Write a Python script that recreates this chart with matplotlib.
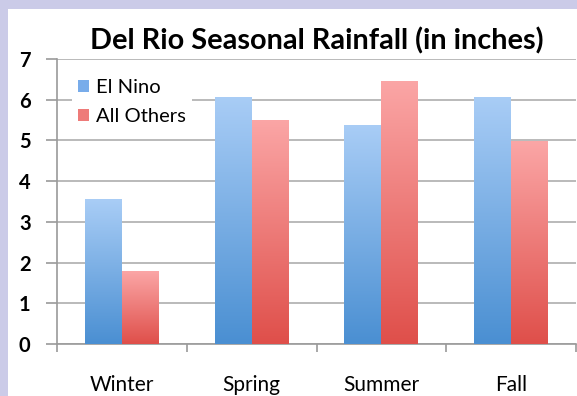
import numpy as np
import matplotlib
matplotlib.use("Agg")
import matplotlib.pyplot as plt
from matplotlib.colors import LinearSegmentedColormap
from matplotlib.patches import Patch

# data
seasons = ["Winter", "Spring", "Summer", "Fall"]
el_nino = [3.56, 6.07, 5.38, 6.07]
all_others = [1.79, 5.51, 6.46, 4.98]

plt.rcParams['font.family'] = ['Lato', 'DejaVu Sans']

fig = plt.figure(figsize=(5.77, 3.96), dpi=100)
fig.patch.set_facecolor('#cbcbe8')
# white chart panel
fig.patches.append(plt.Rectangle((8 / 577, 0), 1, 1 - 9 / 396, transform=fig.transFigure,
                                 facecolor='white', edgecolor='none', zorder=-10))

ax = fig.add_axes([57 / 577, 52 / 396, 519 / 577, 285 / 396])
ax.set_facecolor('none')
ax.set_zorder(2)

blue_cm = LinearSegmentedColormap.from_list('b', ['#4a8fd2', '#a9cdf6'])
red_cm = LinearSegmentedColormap.from_list('r', ['#df4f4a', '#fba6a6'])

x = np.arange(len(seasons))
w = 0.285
bars1 = ax.bar(x - w / 2, el_nino, w, color='none', edgecolor='none', zorder=3)
bars2 = ax.bar(x + w / 2, all_others, w, color='none', edgecolor='none', zorder=3)

# vertical gradient fill per bar (dark at the bottom, light at the top)
grad = np.linspace(0, 1, 256).reshape(-1, 1)
for bars, cm in ((bars1, blue_cm), (bars2, red_cm)):
    for b in bars:
        x0, y0 = b.get_x(), b.get_y()
        im = ax.imshow(grad, cmap=cm, origin='lower', aspect='auto', zorder=3,
                       extent=(x0, x0 + b.get_width(), y0, y0 + b.get_height()))
        im.set_clip_path(b)

ax.set_xlim(-0.5, 3.5)
ax.set_ylim(0, 7)
ax.set_yticks(range(0, 8))
ax.yaxis.grid(True, color='#b4b4b4', lw=1.3, zorder=1)
ax.set_axisbelow(True)

ax.set_xticks(x)
ax.set_xticklabels(seasons, fontsize=15)
ax.tick_params(axis='x', length=0, pad=22)
ax.set_xticks(np.arange(-0.5, 4, 1), minor=True)
ax.tick_params(axis='x', which='minor', length=6, color='#9a9a9a', width=1.2)
ax.tick_params(axis='y', length=8, color='#9a9a9a', width=1.2, pad=11, labelsize=14.5)
for lab in ax.get_yticklabels():
    lab.set_fontweight('bold')

for s in ['top', 'right']:
    ax.spines[s].set_visible(False)
for s in ['left', 'bottom']:
    ax.spines[s].set_color('#9a9a9a')
    ax.spines[s].set_linewidth(1.2)

ax.set_title("Del Rio Seasonal Rainfall (in inches)", fontsize=20.8, fontweight='bold', pad=7)

handles = [Patch(facecolor='#78acea', label='El Nino'),
           Patch(facecolor='#ee7b79', label='All Others')]
leg = ax.legend(handles=handles, loc='upper left', bbox_to_anchor=(0.01, 0.985),
                frameon=True, fancybox=False, framealpha=1, edgecolor='none',
                facecolor='white', fontsize=14.5, handlelength=0.55, handleheight=0.55,
                handletextpad=0.35, labelspacing=0.6, borderpad=0.3)
leg.set_zorder(5)

fig.savefig("out.png", dpi=100)
